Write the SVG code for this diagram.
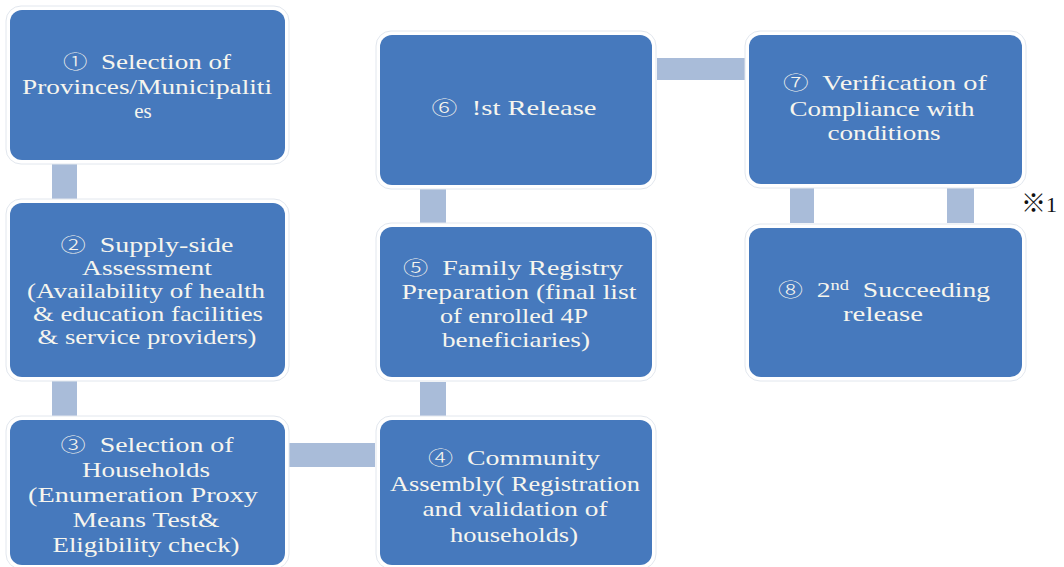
<svg xmlns="http://www.w3.org/2000/svg" width="1064" height="567" viewBox="0 0 1064 567">
  <style>
    .rim { fill: #ffffff; stroke: #e2e7ee; stroke-width: 1; }
    .box { fill: #4679bd; }
    .link { fill: #a9bcd9; }
    .lbl { font-family: "Liberation Serif", "DejaVu Serif", serif; font-size: 21px; fill: #f6f5ee; text-anchor: middle; }
    .num { font-family: "Noto Sans CJK JP", "DejaVu Sans", sans-serif; font-weight: 300; font-size: 19px; }
    .note { font-family: "Noto Sans CJK JP", sans-serif; font-size: 25px; fill: #111111; }
  </style>
  <rect width="1064" height="567" fill="#ffffff"/>

  <!-- connectors -->
  <g id="connectors">
    <rect class="link" x="52" y="163" width="25" height="36"/>
    <rect class="link" x="52" y="381" width="25" height="35"/>
    <rect class="link" x="289" y="443" width="86" height="24"/>
    <rect class="link" x="420" y="382" width="26" height="34"/>
    <rect class="link" x="420" y="189" width="26" height="34"/>
    <rect class="link" x="657" y="58" width="88" height="22"/>
    <rect class="link" x="790" y="188" width="24" height="35"/>
    <rect class="link" x="947" y="188" width="27" height="35"/>
  </g>

  <!-- step 1 -->
  <g id="node1">
    <rect class="rim" x="6" y="6" width="283" height="158" rx="15"/>
    <rect class="box" x="10" y="10" width="275" height="150" rx="12"/>
    <text class="lbl" x="147" y="69" textLength="168" lengthAdjust="spacingAndGlyphs" xml:space="preserve"><tspan class="num">①</tspan>  Selection of</text>
    <text class="lbl" x="147" y="94" textLength="250" lengthAdjust="spacingAndGlyphs">Provinces/Municipaliti</text>
    <text class="lbl" x="143" y="118">es</text>
  </g>

  <!-- step 2 -->
  <g id="node2">
    <rect class="rim" x="6" y="199" width="283" height="182" rx="15"/>
    <rect class="box" x="10" y="203" width="275" height="174" rx="12"/>
    <text class="lbl" x="147" y="252" textLength="173" lengthAdjust="spacingAndGlyphs" xml:space="preserve"><tspan class="num">②</tspan>  Supply-side</text>
    <text class="lbl" x="147" y="275" textLength="130" lengthAdjust="spacingAndGlyphs">Assessment</text>
    <text class="lbl" x="146" y="298" textLength="238" lengthAdjust="spacingAndGlyphs">(Availability of health</text>
    <text class="lbl" x="148" y="321" textLength="230" lengthAdjust="spacingAndGlyphs">&amp; education facilities</text>
    <text class="lbl" x="147" y="344" textLength="219" lengthAdjust="spacingAndGlyphs">&amp; service providers)</text>
  </g>

  <!-- step 3 -->
  <g id="node3">
    <rect class="rim" x="6" y="416" width="283" height="153" rx="15"/>
    <rect class="box" x="10" y="420" width="275" height="145" rx="12"/>
    <text class="lbl" x="147" y="452" textLength="173" lengthAdjust="spacingAndGlyphs" xml:space="preserve"><tspan class="num">③</tspan>  Selection of</text>
    <text class="lbl" x="146" y="477" textLength="128" lengthAdjust="spacingAndGlyphs">Households</text>
    <text class="lbl" x="143" y="502" textLength="230" lengthAdjust="spacingAndGlyphs">(Enumeration Proxy</text>
    <text class="lbl" x="146" y="527" textLength="147" lengthAdjust="spacingAndGlyphs">Means Test&amp;</text>
    <text class="lbl" x="146" y="552" textLength="187" lengthAdjust="spacingAndGlyphs">Eligibility check)</text>
  </g>

  <!-- step 4 -->
  <g id="node4">
    <rect class="rim" x="376" y="416" width="280" height="153" rx="15"/>
    <rect class="box" x="380" y="420" width="272" height="145" rx="12"/>
    <text class="lbl" x="514" y="465" textLength="172" lengthAdjust="spacingAndGlyphs" xml:space="preserve"><tspan class="num">④</tspan>  Community</text>
    <text class="lbl" x="515" y="491" textLength="250" lengthAdjust="spacingAndGlyphs">Assembly( Registration</text>
    <text class="lbl" x="515" y="516" textLength="185" lengthAdjust="spacingAndGlyphs">and validation of</text>
    <text class="lbl" x="514" y="542" textLength="128" lengthAdjust="spacingAndGlyphs">households)</text>
  </g>

  <!-- step 5 -->
  <g id="node5">
    <rect class="rim" x="376" y="223" width="280" height="158" rx="15"/>
    <rect class="box" x="380" y="227" width="272" height="150" rx="12"/>
    <text class="lbl" x="513" y="275" textLength="220" lengthAdjust="spacingAndGlyphs" xml:space="preserve"><tspan class="num">⑤</tspan>  Family Registry</text>
    <text class="lbl" x="519" y="299" textLength="235" lengthAdjust="spacingAndGlyphs">Preparation (final list</text>
    <text class="lbl" x="514" y="323" textLength="148" lengthAdjust="spacingAndGlyphs">of enrolled 4P</text>
    <text class="lbl" x="516" y="347" textLength="148" lengthAdjust="spacingAndGlyphs">beneficiaries)</text>
  </g>

  <!-- step 6 -->
  <g id="node6">
    <rect class="rim" x="376" y="31" width="280" height="158" rx="15"/>
    <rect class="box" x="380" y="35" width="272" height="150" rx="12"/>
    <text class="lbl" x="514" y="115" textLength="165" lengthAdjust="spacingAndGlyphs" xml:space="preserve"><tspan class="num">⑥</tspan>  !st Release</text>
  </g>

  <!-- step 7 -->
  <g id="node7">
    <rect class="rim" x="745" y="31" width="281" height="157" rx="15"/>
    <rect class="box" x="749" y="35" width="273" height="149" rx="12"/>
    <text class="lbl" x="885" y="90" textLength="204" lengthAdjust="spacingAndGlyphs" xml:space="preserve"><tspan class="num">⑦</tspan>  Verification of</text>
    <text class="lbl" x="882" y="116" textLength="185" lengthAdjust="spacingAndGlyphs">Compliance with</text>
    <text class="lbl" x="884" y="140" textLength="113" lengthAdjust="spacingAndGlyphs">conditions</text>
  </g>

  <!-- step 8 -->
  <g id="node8">
    <rect class="rim" x="745" y="224" width="281" height="157" rx="15"/>
    <rect class="box" x="749" y="228" width="273" height="149" rx="12"/>
    <text class="lbl" x="884" y="297" textLength="212" lengthAdjust="spacingAndGlyphs" xml:space="preserve"><tspan class="num">⑧</tspan>  2<tspan font-size="14" baseline-shift="super">nd</tspan>  Succeeding</text>
    <text class="lbl" x="883" y="321" textLength="80" lengthAdjust="spacingAndGlyphs">release</text>
  </g>

  <!-- footnote mark -->
  <g id="note">
    <text class="note" x="1021" y="212">※<tspan font-size="22" font-family="Liberation Serif, serif">1</tspan></text>
  </g>
</svg>
